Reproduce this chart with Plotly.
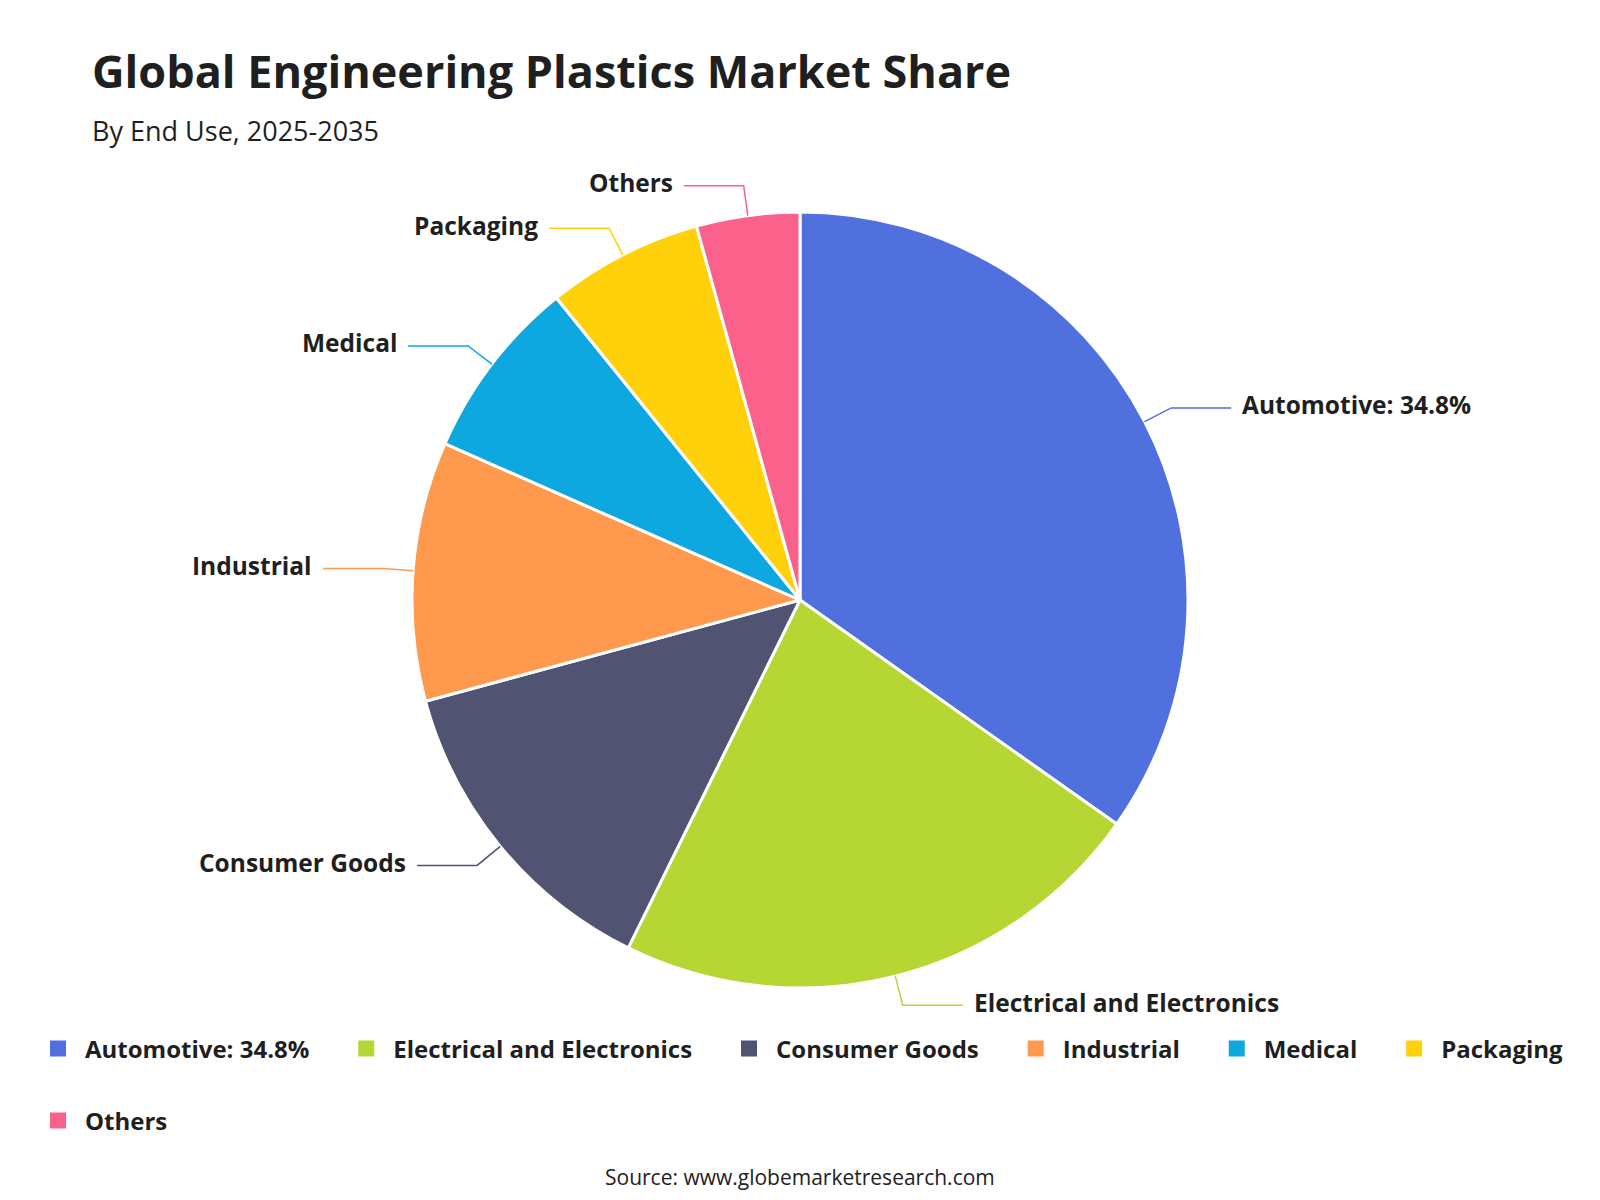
import math
import plotly.graph_objects as go

# ---------------- data ----------------
categories = ["Automotive", "Electrical and Electronics", "Consumer Goods",
              "Industrial", "Medical", "Packaging", "Others"]
shares = [34.8, 22.5, 13.5, 10.8, 7.6, 6.5, 4.3]
label_texts = ["Automotive: 34.8%", "Electrical and Electronics", "Consumer Goods",
               "Industrial", "Medical", "Packaging", "Others"]
colors = ["#5070dd", "#b6d634", "#505372", "#ff994d", "#0ca8df", "#ffd10a", "#fb628b"]

title_text = "Global Engineering Plastics Market Share"
subtitle_text = "By End Use, 2025-2035"
source_text = "Source: www.globemarketresearch.com"

# ---------------- layout geometry (pixels) ----------------
W, H = 1600, 1200
CX, CY, R = 800, 600, 388
LEN1, LEN2, GAP = 30, 60, 9
FONT = "Open Sans"
TXT = "#1f1f1f"


def px(x):
    return x / W


def py(y):
    return (H - y) / H


fig = go.Figure()
fig.add_trace(go.Pie(
    labels=categories,
    values=shares,
    sort=False,
    direction="clockwise",
    rotation=0,
    marker=dict(colors=colors, line=dict(color="white", width=3)),
    textinfo="none",
    textposition="none",
    showlegend=False,
    domain=dict(x=[px(CX - R), px(CX + R)], y=[py(CY + R), py(CY - R)]),
    hovertemplate="%{label}: %{value}%<extra></extra>",
))

# legend entries (square markers); last item of each row gets no padding
n = len(label_texts)
for i, (name, col) in enumerate(zip(label_texts, colors)):
    pad = "" if i >= n - 2 else "\u00a0" * 4
    fig.add_trace(go.Scatter(
        x=[None], y=[None], mode="markers",
        marker=dict(symbol="square", size=16, color=col),
        name=name + pad,
        legend="legend2" if i == n - 1 else "legend",
        showlegend=True,
        hoverinfo="skip",
    ))

# outside labels with leader lines, computed from the shares
total = sum(shares)
cum = 0.0
shapes = []
annotations = []
for val, txt, col in zip(shares, label_texts, colors):
    mid = (cum + val / 2) / total * 2 * math.pi
    cum += val
    sx, sy = math.sin(mid), -math.cos(mid)
    x0, y0 = CX + R * sx, CY + R * sy
    x1, y1 = CX + (R + LEN1) * sx, CY + (R + LEN1) * sy
    d = 1 if sx >= 0 else -1
    x2 = x1 + d * LEN2
    shapes.append(dict(
        type="path", xref="paper", yref="paper",
        path=f"M{px(x0)},{py(y0)} L{px(x1)},{py(y1)} L{px(x2)},{py(y1)}",
        line=dict(color=col, width=1.5),
    ))
    annotations.append(dict(
        x=px(x2 + d * GAP), y=py(y1 - 3), xref="paper", yref="paper",
        text=f"<b>{txt}</b>", showarrow=False,
        xanchor="left" if d > 0 else "right", yanchor="middle",
        font=dict(family=FONT, size=24.5, color=TXT),
    ))

annotations += [
    dict(x=px(90), y=py(70), xref="paper", yref="paper", xanchor="left", yanchor="middle",
         text=f"<b>{title_text}</b>", showarrow=False,
         font=dict(family=FONT, size=45, color=TXT)),
    dict(x=px(90), y=py(131), xref="paper", yref="paper", xanchor="left", yanchor="middle",
         text=subtitle_text, showarrow=False,
         font=dict(family=FONT, size=27, color=TXT, weight=500)),
    dict(x=0.5, y=py(1177), xref="paper", yref="paper", xanchor="center", yanchor="middle",
         text=source_text, showarrow=False,
         font=dict(family=FONT, size=21, color="#222222", weight=500)),
]

legend_font = dict(family=FONT, size=24, color=TXT, weight="bold")
fig.update_layout(
    width=W, height=H,
    margin=dict(l=0, r=0, t=0, b=0),
    paper_bgcolor="white", plot_bgcolor="white",
    xaxis=dict(visible=False), yaxis=dict(visible=False),
    shapes=shapes,
    annotations=annotations,
    legend=dict(orientation="h", x=px(31), y=py(1049), xanchor="left", yanchor="middle",
                font=legend_font, bgcolor="rgba(0,0,0,0)", itemwidth=44),
    legend2=dict(orientation="h", x=px(31), y=py(1121), xanchor="left", yanchor="middle",
                 font=legend_font, bgcolor="rgba(0,0,0,0)", itemwidth=44),
)

fig.write_html("out.html")
